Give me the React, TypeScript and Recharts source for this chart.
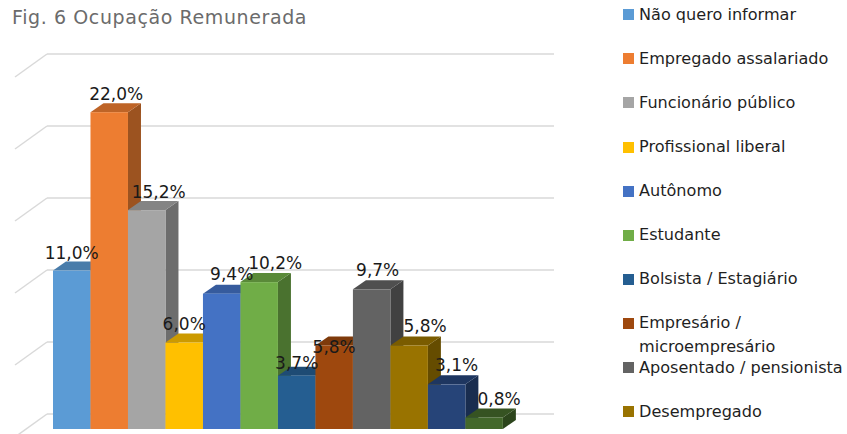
import React from "react";
import { BarChart, Bar, YAxis, XAxis, Legend, LabelList } from "recharts";

const categories = ["Ocupação Remunerada"];
const seriesNames = [
  "Não quero informar",
  "Empregado assalariado",
  "Funcionário público",
  "Profissional liberal",
  "Autônomo",
  "Estudante",
  "Bolsista / Estagiário",
  "Empresário / microempresário",
  "Aposentado / pensionista",
  "Desempregado",
  "Outra ocupação",
  "Sem ocupação",
];
const seriesValues = [11.0, 22.0, 15.2, 6.0, 9.4, 10.2, 3.7, 5.8, 9.7, 5.8, 3.1, 0.8];
const seriesColors = [
  "#5B9BD5", "#ED7D31", "#A5A5A5", "#FFC000", "#4472C4", "#70AD47",
  "#255E91", "#9E480E", "#636363", "#997300", "#264478", "#43682B",
];
const legendCount = 10;
const yTicks = [0, 5, 10, 15, 20, 25];
const labelShiftX = [0, 7, 12, 0, 10, 16, 0, 0, 6, 16, 10, 15];
const labelShiftY = [-12, -12, -12, -13, -14, -13, -7, 8, -13, -13, -13, -12];

const rows = categories.map((category) => {
  const row: Record<string, string | number> = { category };
  seriesNames.forEach((n, i) => (row[n] = seriesValues[i]));
  return row;
});

const W = 847;
const H = 434;
const FONT = "'DejaVu Sans', sans-serif";
const margin = { left: 52, right: 344, top: 69, bottom: 5 };
const DEPTH_X = 13;
const DEPTH_Y = 9;
const BAR_SIZE = 37.49;

function shade(hex: string, k: number) {
  const n = parseInt(hex.slice(1), 16);
  const c = [(n >> 16) & 255, (n >> 8) & 255, n & 255].map((v) => Math.round(v * k));
  return `rgb(${c[0]},${c[1]},${c[2]})`;
}

function Bar3D(props: any) {
  const { x, y, width, height, fill } = props;
  const r = x + width;
  const b = y + height;
  return (
    <g>
      <polygon
        points={`${r},${y} ${r + DEPTH_X},${y - DEPTH_Y} ${r + DEPTH_X},${b - DEPTH_Y} ${r},${b}`}
        fill={shade(fill, 0.66)}
      />
      <polygon
        points={`${x},${y} ${x + DEPTH_X},${y - DEPTH_Y} ${r + DEPTH_X},${y - DEPTH_Y} ${r},${y}`}
        fill={shade(fill, 0.8)}
      />
      <rect x={x} y={y} width={width} height={height} fill={fill} />
    </g>
  );
}

function WallTick(props: any) {
  const y = props.y - 15;
  return (
    <g stroke="#d9d9d9" strokeWidth={1.5} fill="none">
      <line x1={47} y1={y} x2={554} y2={y} />
      <line x1={47} y1={y} x2={15} y2={y + 23} />
    </g>
  );
}

function LegendBox(props: any) {
  const items = seriesNames
    .slice(0, legendCount)
    .map((n) => (props.payload || []).find((p: any) => p.value === n))
    .filter(Boolean);
  return (
    <div style={{ position: "absolute", left: 0, top: 0, width: W, height: H, fontFamily: FONT, fontSize: 16.1, color: "#1f1f1f" }}>
      {items.map((it: any, i: number) => {
        const cy = 14.7 + i * 44.1;
        return (
          <React.Fragment key={it.value}>
            <div style={{ position: "absolute", left: 623, top: cy - 5.5, width: 11, height: 11, background: it.color }} />
            <div style={{ position: "absolute", left: 639, top: cy - 12, width: 208, lineHeight: "23.5px", whiteSpace: i === 7 ? "normal" : "nowrap" }}>
              {it.value}
            </div>
          </React.Fragment>
        );
      })}
    </div>
  );
}

function ValueLabel(i: number) {
  return (props: any) => {
    const { x, y, width } = props;
    return (
      <text
        x={x + width / 2 + labelShiftX[i]}
        y={y + labelShiftY[i]}
        textAnchor="middle"
        fontFamily={FONT}
        fontSize={17}
        fill="#1a1a1a"
      >
        {seriesValues[i].toFixed(1).replace(".", ",")}%
      </text>
    );
  };
}

const layer: React.CSSProperties = { position: "absolute", left: 0, top: 0 };

export default function App() {
  return (
    <div style={{ position: "absolute", left: 0, top: 0, width: W, height: H, background: "#fff", overflow: "hidden" }}>
      <div style={layer}>
        <BarChart width={W} height={H} data={rows} margin={margin} barCategoryGap={0} barGap={0} barSize={BAR_SIZE}>
          <XAxis dataKey="category" hide />
          <YAxis width={1} domain={[0, 25]} ticks={yTicks} axisLine={false} tickLine={false} tick={<WallTick />} interval={0} />
          {seriesNames.map((n) => (
            <Bar key={n} dataKey={n} fill="none" isAnimationActive={false} />
          ))}
        </BarChart>
      </div>
      <div style={layer}>
        <BarChart width={W} height={H} data={rows} margin={margin} barCategoryGap={0} barGap={0} barSize={BAR_SIZE}>
          <XAxis dataKey="category" hide />
          <YAxis hide width={1} domain={[0, 25]} ticks={yTicks} />
          <Legend
            layout="horizontal"
            verticalAlign="middle"
            wrapperStyle={{ left: 0, top: 0, width: W, height: H, pointerEvents: "none" }}
            content={<LegendBox />}
          />
          {seriesNames.map((n, i) => (
            <Bar
              key={n}
              dataKey={n}
              name={n}
              fill={seriesColors[i]}
              shape={<Bar3D />}
              isAnimationActive={false}
              legendType="square"
            />
          ))}
        </BarChart>
      </div>
      <div style={layer}>
        <BarChart width={W} height={H} data={rows} margin={margin} barCategoryGap={0} barGap={0} barSize={BAR_SIZE}>
          <XAxis dataKey="category" hide />
          <YAxis hide width={1} domain={[0, 25]} ticks={yTicks} />
          {seriesNames.map((n, i) => (
            <Bar key={n} dataKey={n} fill="none" isAnimationActive={false}>
              <LabelList dataKey={n} content={ValueLabel(i)} />
            </Bar>
          ))}
        </BarChart>
      </div>
      <div style={{ position: "absolute", left: 12, top: 6, fontFamily: FONT, fontSize: 19, color: "#6b6b6b", letterSpacing: 0.6, whiteSpace: "nowrap" }}>
        Fig. 6 Ocupação Remunerada
      </div>
    </div>
  );
}
